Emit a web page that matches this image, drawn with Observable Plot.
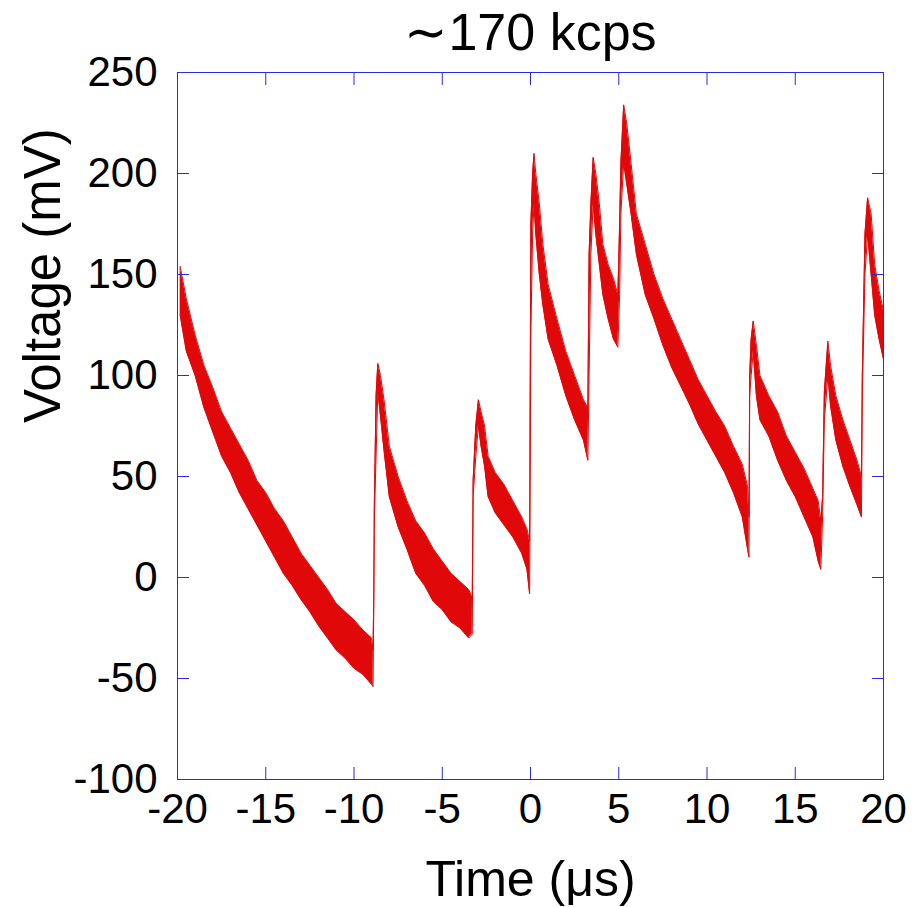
<!DOCTYPE html>
<html>
<head>
<meta charset="utf-8">
<script src="https://cdn.jsdelivr.net/npm/d3@7"></script>
<script src="https://cdn.jsdelivr.net/npm/@observablehq/plot@0.6"></script>
<style>
  html, body { margin: 0; padding: 0; background: #fff; }
  #chart svg { display: block; }
</style>
</head>
<body>
<div id="chart"></div>
<script>
// Time (µs) sample positions
const timeUs = [
  -19.85, -19.5, -19.0, -18.5, -18.0, -17.5, -17.0, -16.5, -16.0, -15.5,
  -15.0, -14.5, -14.0, -13.5, -13.0, -12.5, -12.0, -11.5, -11.0, -10.5,
  -10.0, -9.5, -9.0, -8.92, -8.88, -8.85, -8.75, -8.65, -8.5, -8.3,
  -8.0, -7.5, -7.0, -6.5, -6.0, -5.5, -5.0, -4.5, -4.0, -3.5,
  -3.3, -3.25, -3.1, -2.95, -2.8, -2.6, -2.4, -2.0, -1.5, -1.0,
  -0.5, -0.2, -0.05, 0.02, 0.12, 0.2, 0.3, 0.5, 0.7, 1.0,
  1.5, 2.0, 2.5, 3.0, 3.25, 3.32, 3.42, 3.55, 3.7, 3.9,
  4.1, 4.4, 4.7, 4.95, 5.05, 5.12, 5.28, 5.45, 5.7, 6.0,
  6.5, 7.0, 7.5, 8.0, 8.5, 9.0, 9.5, 10.0, 10.5, 11.0,
  11.5, 12.0, 12.3, 12.38, 12.42, 12.5, 12.62, 12.8, 13.0, 13.5,
  14.0, 14.5, 15.0, 15.5, 16.0, 16.3, 16.45, 16.55, 16.65, 16.85,
  17.0, 17.3, 17.7, 18.1, 18.5, 18.75, 18.8, 18.95, 19.1, 19.3,
  19.5, 19.75, 20.0
];
// Lower edge of the noisy trace (mV)
const voltLow = [
  130, 112, 100, 84, 72, 60, 52, 42, 34, 26,
  18, 10, 2, -4, -11, -17, -24, -30, -36, -40,
  -45, -48, -53, -54, -14, 28, 60, 92, 80, 63,
  40, 25, 14, 2, -4, -12, -16, -22, -25, -30,
  -28, 40, 60, 75, 65, 55, 40, 32, 26, 20,
  12, 4, -8, 120, 170, 185, 170, 150, 135, 118,
  105, 90, 78, 68, 58, 100, 160, 185, 170, 155,
  140, 128, 118, 114, 140, 180, 205, 195, 180, 160,
  140, 128, 115, 104, 95, 86, 76, 68, 60, 52,
  42, 30, 14, 10, 90, 100, 112, 90, 78, 70,
  58, 48, 40, 30, 20, 8, 4, 30, 78, 100,
  85, 68, 55, 45, 36, 30, 90, 150, 170, 150,
  130, 118, 108
];
// Upper edge of the noisy trace (mV)
const voltHigh = [
  154, 138, 120, 105, 94, 82, 74, 66, 58, 48,
  42, 34, 28, 20, 12, 6, 0, -6, -13, -17,
  -21, -26, -30, -36, -10, 34, 90, 106, 100, 88,
  65, 50, 38, 28, 22, 14, 8, 2, -2, -6,
  -10, 48, 75, 88, 82, 75, 60, 52, 46, 38,
  30, 24, 18, 175, 200, 210, 200, 185, 165, 145,
  128, 112, 100, 88, 84, 160, 185, 208, 200, 185,
  165, 155, 148, 140, 175, 205, 234, 225, 205, 180,
  165, 150, 138, 128, 118, 108, 98, 90, 82, 75,
  65, 56, 45, 30, 100, 118, 127, 115, 100, 90,
  82, 70, 62, 54, 44, 38, 28, 40, 92, 117,
  105, 90, 78, 68, 58, 50, 100, 170, 188, 180,
  155, 142, 132
];
const xTicks = [-20, -15, -10, -5, 0, 5, 10, 15, 20];
const yTicks = [-100, -50, 0, 50, 100, 150, 200, 250];
const titleText = "\u223C170 kcps";
const xTitle = "Time (\u03BCs)";
const yTitle = "Voltage (mV)";

const trace = timeUs.map((t, i) => ({t, lo: voltLow[i], hi: voltHigh[i]}));

const frameColor = "#2a2ae0";
const traceColor = "#e00808";
const font = "'Liberation Sans', Arial, Helvetica, sans-serif";
const plain = d => String(d);

const chart = Plot.plot({
  width: 920,
  height: 907,
  marginLeft: 177,
  marginRight: 37,
  marginTop: 72,
  marginBottom: 128,
  style: {fontFamily: font, background: "#fff", color: "#000"},
  x: {domain: [-20, 20]},
  y: {domain: [-100, 250]},
  marks: [
    Plot.areaY(trace, {x: "t", y1: "lo", y2: "hi", fill: traceColor, curve: "linear"}),
    Plot.line(trace, {x: "t", y: "lo", stroke: traceColor, strokeWidth: 1, curve: "linear"}),
    Plot.line(trace, {x: "t", y: "hi", stroke: traceColor, strokeWidth: 1, curve: "linear"}),
    Plot.frame({stroke: frameColor, strokeWidth: 1}),
    Plot.axisX({anchor: "bottom", ticks: xTicks, tickSize: -12, tickPadding: 26, tickFormat: plain, fontSize: 42, stroke: frameColor, fill: "#000", label: null}),
    Plot.axisX({anchor: "top", ticks: xTicks, tickSize: -12, tickFormat: () => "", stroke: frameColor, label: null}),
    Plot.axisY({anchor: "left", ticks: yTicks, tickSize: -12, tickPadding: 32, tickFormat: plain, fontSize: 42, stroke: frameColor, fill: "#000", label: null}),
    Plot.axisY({anchor: "right", ticks: yTicks, tickSize: -12, tickFormat: () => "", stroke: frameColor, label: null}),
    Plot.text([titleText], {frameAnchor: "top", dy: -23, lineAnchor: "bottom", fontSize: 52, fill: "#000"}),
    Plot.text([xTitle], {frameAnchor: "bottom", dy: 116, lineAnchor: "bottom", fontSize: 50, fill: "#000"}),
    Plot.text([yTitle], {frameAnchor: "left", dx: -118, dy: -3, rotate: -90, lineAnchor: "bottom", fontSize: 51, fill: "#000"})
  ]
});
document.getElementById("chart").appendChild(chart);
</script>
</body>
</html>
